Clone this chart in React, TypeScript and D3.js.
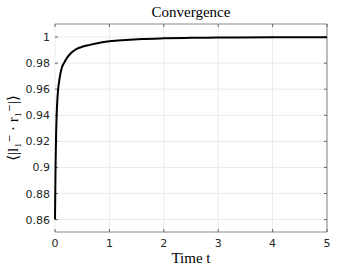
import React from 'react';
import * as d3 from 'd3';

// values
const timeValues = [0, 0.005, 0.01, 0.02, 0.03, 0.045, 0.06, 0.08, 0.1, 0.13, 0.165, 0.22, 0.3, 0.4, 0.5, 0.64, 0.8, 1.0, 1.3, 1.6, 2, 2.5, 3, 4, 5];
const overlapValues = [0.86, 0.88, 0.9, 0.925, 0.94, 0.953, 0.961, 0.967, 0.972, 0.977, 0.98, 0.984, 0.988, 0.991, 0.9925, 0.994, 0.9955, 0.9968, 0.9978, 0.9985, 0.999, 0.9994, 0.9996, 0.9998, 0.9999];
const xTicks = [0, 1, 2, 3, 4, 5];
const yTicks = [0.86, 0.88, 0.9, 0.92, 0.94, 0.96, 0.98, 1];

const W = 361;
const H = 271;
const margin = { left: 55, right: 34, top: 24, bottom: 39 };

const App = () => {
  const x = d3.scaleLinear().domain([0, 5]).range([margin.left, W - margin.right]);
  const y = d3.scaleLinear().domain([0.8505, 1.01]).range([H - margin.bottom, margin.top]);
  const pts: [number, number][] = timeValues.map((t, i) => [t, overlapValues[i]]);
  const line = d3
    .line<[number, number]>()
    .x((d) => x(d[0]))
    .y((d) => y(d[1]))
    .curve(d3.curveMonotoneX);

  const x0 = margin.left;
  const x1 = W - margin.right;
  const y0 = H - margin.bottom;
  const y1 = margin.top;
  const tickFont = "'DejaVu Sans', sans-serif";
  const serif = "'Liberation Serif', 'DejaVu Serif', serif";

  return (
    <svg width={W} height={H} style={{ position: 'absolute', left: 0, top: 0, background: '#fff' }}>
      {/* grid */}
      {xTicks.map((t) => (
        <line key={'gx' + t} x1={x(t)} x2={x(t)} y1={y0} y2={y1} stroke="#e6e6e6" strokeWidth={0.8} />
      ))}
      {yTicks.map((t) => (
        <line key={'gy' + t} x1={x0} x2={x1} y1={y(t)} y2={y(t)} stroke="#e6e6e6" strokeWidth={0.8} />
      ))}
      {/* box */}
      <line x1={x0} x2={x1} y1={y1} y2={y1} stroke="#888" strokeWidth={1} />
      <line x1={x0} x2={x1} y1={y0} y2={y0} stroke="#888" strokeWidth={1} />
      <line x1={x1} x2={x1} y1={y1} y2={y0} stroke="#888" strokeWidth={1} />
      {/* ticks */}
      {xTicks.map((t) => (
        <g key={'tx' + t}>
          <line x1={x(t)} x2={x(t)} y1={y0} y2={y0 - 3} stroke="#666" />
          <line x1={x(t)} x2={x(t)} y1={y1} y2={y1 + 3} stroke="#666" />
          <text x={x(t)} y={y0 + 15} textAnchor="middle" fontFamily={tickFont} fontSize={11} fill="#262626">
            {t}
          </text>
        </g>
      ))}
      {yTicks.map((t) => (
        <g key={'ty' + t}>
          <line x1={x0} x2={x0 + 3} y1={y(t)} y2={y(t)} stroke="#666" />
          <line x1={x1} x2={x1 - 3} y1={y(t)} y2={y(t)} stroke="#666" />
          <text x={x0 - 5} y={y(t) + 4} textAnchor="end" fontFamily={tickFont} fontSize={11} fill="#262626">
            {d3.format('~g')(t)}
          </text>
        </g>
      ))}
      {/* curve */}
      <path d={line(pts) || ''} fill="none" stroke="#000" strokeWidth={2} />
      {/* labels */}
      <text x={(x0 + x1) / 2} y={17} textAnchor="middle" fontFamily={serif} fontSize={15} fill="#000">
        Convergence
      </text>
      <text x={(x0 + x1) / 2} y={263} textAnchor="middle" fontFamily={serif} fontSize={15} fill="#000">
        Time t
      </text>
      <text
        transform={`translate(18, ${(y0 + y1) / 2}) rotate(-90)`}
        textAnchor="middle"
        fontFamily={serif}
        fontSize={15}
        fill="#000"
      >
        ⟨|l₁⁻ · r₁⁻|⟩
      </text>
    </svg>
  );
};

export default App;
